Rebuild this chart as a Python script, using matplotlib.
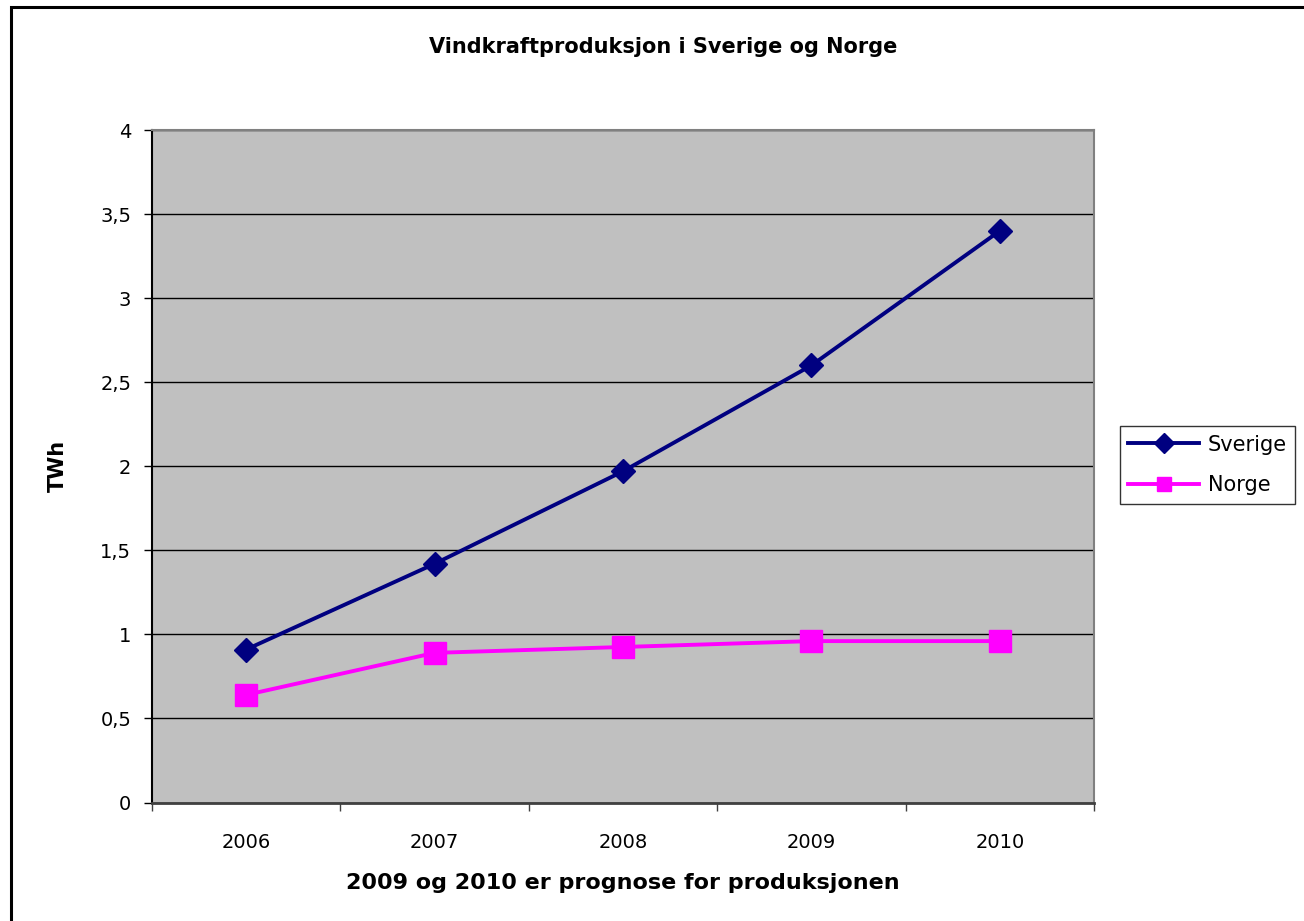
import matplotlib
matplotlib.use("Agg")
import matplotlib.pyplot as plt
from matplotlib.lines import Line2D
import numpy as np

plt.rcParams['font.family'] = ['DejaVu Sans']

years = ["2006", "2007", "2008", "2009", "2010"]
sverige = [0.91, 1.42, 1.97, 2.60, 3.40]
norge = [0.64, 0.89, 0.925, 0.96, 0.96]
yticks = [0, 0.5, 1, 1.5, 2, 2.5, 3, 3.5, 4]
ytick_labels = ["0", "0,5", "1", "1,5", "2", "2,5", "3", "3,5", "4"]

W, H = 1304, 921
fig = plt.figure(figsize=(W / 100, H / 100), dpi=100)
fig.patch.set_facecolor("white")

# outer chart border (only left and top visible)
fig.add_artist(Line2D([10.5 / W, 10.5 / W, 1.0], [0.0, 1 - 7.5 / H, 1 - 7.5 / H],
                      transform=fig.transFigure, color="black", linewidth=2.2,
                      solid_joinstyle="miter"))

ax = fig.add_axes([152 / W, (H - 802.5) / H, 942 / W, 672.5 / H])
ax.set_facecolor("#C0C0C0")

x = np.arange(len(years))
ax.plot(x, sverige, color="#000080", linewidth=2.8, marker="D",
        markersize=12.5, label="Sverige", zorder=3)
ax.plot(x, norge, color="#FF00FF", linewidth=2.8, marker="s",
        markersize=16, label="Norge", zorder=3)

ax.set_xlim(-0.5, len(years) - 0.5)
ax.set_ylim(0, 4)
ax.set_yticks(yticks)
ax.set_yticklabels(ytick_labels, fontsize=14)
ax.set_xticks(x)
ax.set_xticklabels(years, fontsize=14)
ax.set_xticks(np.arange(-0.5, len(years)), minor=True)
ax.tick_params(axis="x", which="major", length=0, pad=22)
ax.tick_params(axis="x", which="minor", length=6, width=1, color="#404040")
ax.tick_params(axis="y", length=6, width=1, pad=9)
ax.yaxis.grid(True, color="black", linewidth=1)
ax.set_axisbelow(True)

for s in ["top", "right"]:
    ax.spines[s].set_color("#808080")
    ax.spines[s].set_linewidth(1.5)
ax.spines["left"].set_color("black")
ax.spines["left"].set_linewidth(1.5)
ax.spines["bottom"].set_color("#404040")
ax.spines["bottom"].set_linewidth(2)

ax.set_ylabel("TWh", fontsize=15, fontweight="bold", labelpad=23)
ax.set_xlabel("2009 og 2010 er prognose for produksjonen", fontsize=16,
              fontweight="bold", labelpad=15)
fig.text(663 / W, 1 - 47 / H, "Vindkraftproduksjon i Sverige og Norge",
         ha="center", va="center", fontsize=15, fontweight="bold")

leg = ax.legend(loc="center left", bbox_to_anchor=(1120 / W, 1 - 465 / H),
                bbox_transform=fig.transFigure, fontsize=15, frameon=True,
                fancybox=False, edgecolor="black", handlelength=3.4,
                borderpad=0.4, labelspacing=1.0, handletextpad=0.4,
                borderaxespad=0)
leg.get_frame().set_linewidth(1)
leg.get_frame().set_facecolor("white")
for h in leg.legend_handles:
    h.set_markersize(10)

fig.savefig("out.png", dpi=100)
